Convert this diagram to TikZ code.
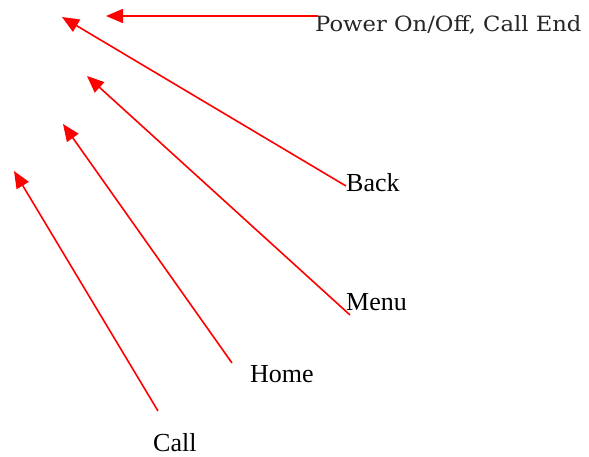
\documentclass[tikz,border=0pt]{standalone}
\usepackage{fontspec}
\usepackage{xcolor}
\setmainfont{Liberation Serif}
\newfontfamily\powerfont[FakeStretch=1.08]{DejaVu Serif}
\usetikzlibrary{arrows.meta}

\begin{document}
\begin{tikzpicture}[x=1pt, y=-1pt,
    keylabel/.style={inner sep=0pt, anchor=base west, font=\fontsize{26}{30}\selectfont},
    keyarrow/.style={draw=red, line width=1.6pt, -{Triangle[length=17pt, width=14pt]}}]
    \useasboundingbox (0,0) rectangle (589,456);
    % labels
    \node[keylabel, font=\powerfont\fontsize{21}{24}\selectfont, text=black!85] (power) at (315,31) {Power On/Off, Call End};
    \node[keylabel] (back) at (346,191) {Back};
    \node[keylabel] (menu) at (346,310) {Menu};
    \node[keylabel] (home) at (250,382) {Home};
    \node[keylabel] (call) at (153,451) {Call};
    % tips of the arrows
    \coordinate (tippower) at (106,16);
    \coordinate (tipback) at (62,17);
    \coordinate (tipmenu) at (87,76);
    \coordinate (tiphome) at (63,124);
    \coordinate (tipcall) at (14,171);
    % arrows
    \draw[keyarrow] ([xshift=3pt]power.west |- tippower) -- (tippower);
    \draw[keyarrow] ([yshift=5pt]back.base west) -- (tipback);
    \draw[keyarrow] ([xshift=4pt,yshift=-5pt]menu.base west) -- (tipmenu);
    \draw[keyarrow] ([xshift=-18pt,yshift=19pt]home.base west) -- (tiphome);
    \draw[keyarrow] ([xshift=5pt,yshift=40pt]call.base west) -- (tipcall);
\end{tikzpicture}
\end{document}
